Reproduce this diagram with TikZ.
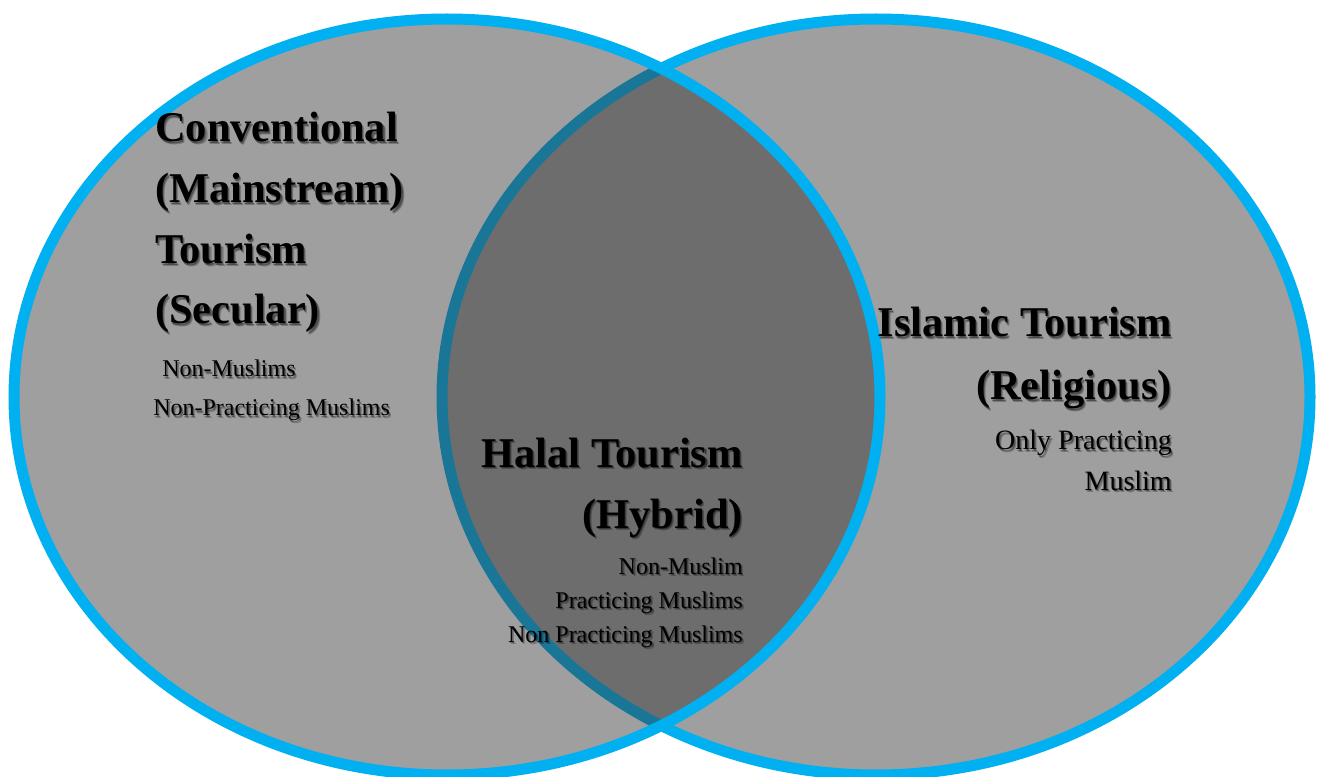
\documentclass[tikz,border=0pt]{standalone}
\usepackage{fontspec}
\setmainfont{Liberation Serif}
\definecolor{vcyan}{RGB}{0,176,240}
\definecolor{vgray}{RGB}{54,54,54}
\tikzset{
  venn/.style={fill=vgray, fill opacity=0.474, draw=vcyan, line width=8.25pt},
  big/.style={font=\fontsize{31.8pt}{36pt}\selectfont\bfseries, inner sep=0pt, text=black},
  small/.style={font=\fontsize{18pt}{20pt}\selectfont, inner sep=0pt, text=black},
  smallr/.style={font=\fontsize{21pt}{24pt}\selectfont, inner sep=0pt, text=black},
  shadowa/.style={text opacity=0.35, xshift=0.8pt, yshift=-0.8pt},
  shadowb/.style={text opacity=0.25, xshift=1.6pt, yshift=-1.6pt},
}
\newcommand\lbl[5]{%
  \node[#4, anchor=#3, shadowb] (#1-sb) at (#2) {#5};
  \node[#4, anchor=#3, shadowa] (#1-sa) at (#2) {#5};
  \node[#4, anchor=#3] (#1) at (#2) {#5};
}
\begin{document}
\begin{tikzpicture}[x=0.75pt, y=-0.75pt]
\useasboundingbox (0,0) rectangle (1318,777);
\fill[white] (0,0) rectangle (1318,777);
% right ellipse first, left ellipse on top
\draw[venn] (876,397) ellipse [x radius=434, y radius=378];
\draw[venn] (447,397) ellipse [x radius=433, y radius=378];
% left block
\lbl{c1}{155,142}{base west}{big}{Conventional}
\lbl{c2}{155,203}{base west}{big}{(Mainstream)}
\lbl{c3}{155,264}{base west}{big}{Tourism}
\lbl{c4}{155,324}{base west}{big}{(Secular)}
\lbl{c5}{162,377}{base west}{small}{Non-Muslims}
\lbl{c6}{153,416}{base west}{small}{Non-Practicing Muslims}
% middle block
\lbl{h1}{743,467}{base east}{big}{Halal Tourism}
\lbl{h2}{743,528}{base east}{big}{(Hybrid)}
\lbl{h3}{743,574}{base east}{small}{Non-Muslim}
\lbl{h4}{743,608}{base east}{small}{Practicing Muslims}
\lbl{h5}{743,642}{base east}{small}{Non Practicing Muslims}
% right block
\lbl{i1}{1172,337}{base east}{big}{Islamic Tourism}
\lbl{i2}{1172,400}{base east}{big}{(Religious)}
\lbl{i3}{1172,450}{base east}{smallr}{Only Practicing}
\lbl{i4}{1172,490}{base east}{smallr}{Muslim}
\end{tikzpicture}
\end{document}
